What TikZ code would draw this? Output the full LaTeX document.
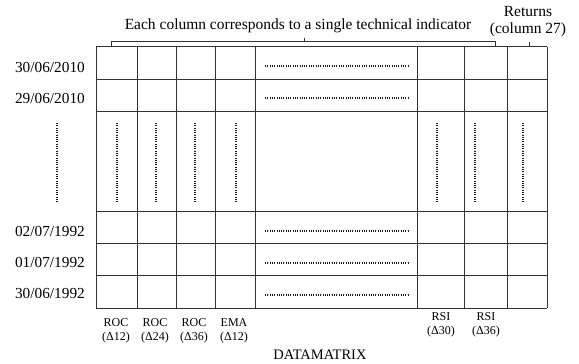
\documentclass[tikz,border=0pt]{standalone}
\usepackage{fontspec}
\setmainfont{Liberation Serif}
\begin{document}
\begin{tikzpicture}[x=1pt,y=-1pt,
  gridline/.style={draw=black!80, line width=0.9pt},
  dotline/.style={draw=black!90, line width=1.2pt, dash pattern=on 0.8pt off 1.5pt},
  datelbl/.style={anchor=east, inner sep=0pt, font=\fontsize{15.3}{15}\selectfont},
  collbl/.style={inner sep=0pt, align=center, font=\fontsize{12}{13.5}\selectfont},
  toplbl/.style={inner sep=0pt, align=center, font=\fontsize{15.5}{17}\selectfont}]
\useasboundingbox (0,0) rectangle (579,364);
% grid
\foreach \x in {96,137,176,215,255,417,464,507,547}
  \draw[gridline] (\x,46.5) -- (\x,308);
\foreach \y in {46.5,79,111,211.5,243,275,308}
  \draw[gridline] (96,\y) -- (547,\y);
% date labels
\node[datelbl] (d1) at (85,67) {30/06/2010};
\node[datelbl] (d2) at (85,98) {29/06/2010};
\node[datelbl] (d3) at (85,231) {02/07/1992};
\node[datelbl] (d4) at (85,262) {01/07/1992};
\node[datelbl] (d5) at (85,293) {30/06/1992};
% vertical dotted lines
\foreach \x in {57,117,156,195,236,437,475,523}
  \draw[dotline] (\x,123) -- (\x,203);
% horizontal dotted lines
\foreach \y in {66,98,231,263,295}
  \draw[dotline] (265,\y) -- (408,\y);
% bracket
\coordinate (bl) at (111,46.5);
\coordinate (br) at (495,46.5);
\draw[gridline, line width=0.7pt] (bl) -- (111,41.7) -- (495,41.7) -- (br);
\draw[gridline, line width=0.7pt] (304,41.7) -- (304,38);
\draw[gridline, line width=0.7pt] (529,46.5) -- (529,42);
% top labels
\node[toplbl] (title) at (298,26) {Each column corresponds to a single technical indicator};
\node[toplbl] (ret) at (528,22) {Returns\\(column 27)};
% column labels
\node[collbl] (c1) at (116,331) {ROC\\(Δ12)};
\node[collbl] (c2) at (155,331) {ROC\\(Δ24)};
\node[collbl] (c3) at (194,331) {ROC\\(Δ36)};
\node[collbl] (c4) at (234,331) {EMA\\(Δ12)};
\node[collbl] (c5) at (441,325) {RSI\\(Δ30)};
\node[collbl] (c6) at (486,325) {RSI\\(Δ36)};
\node[toplbl, font=\fontsize{14.5}{14.5}\selectfont] (dm) at (320,355) {DATAMATRIX};
\end{tikzpicture}
\end{document}
